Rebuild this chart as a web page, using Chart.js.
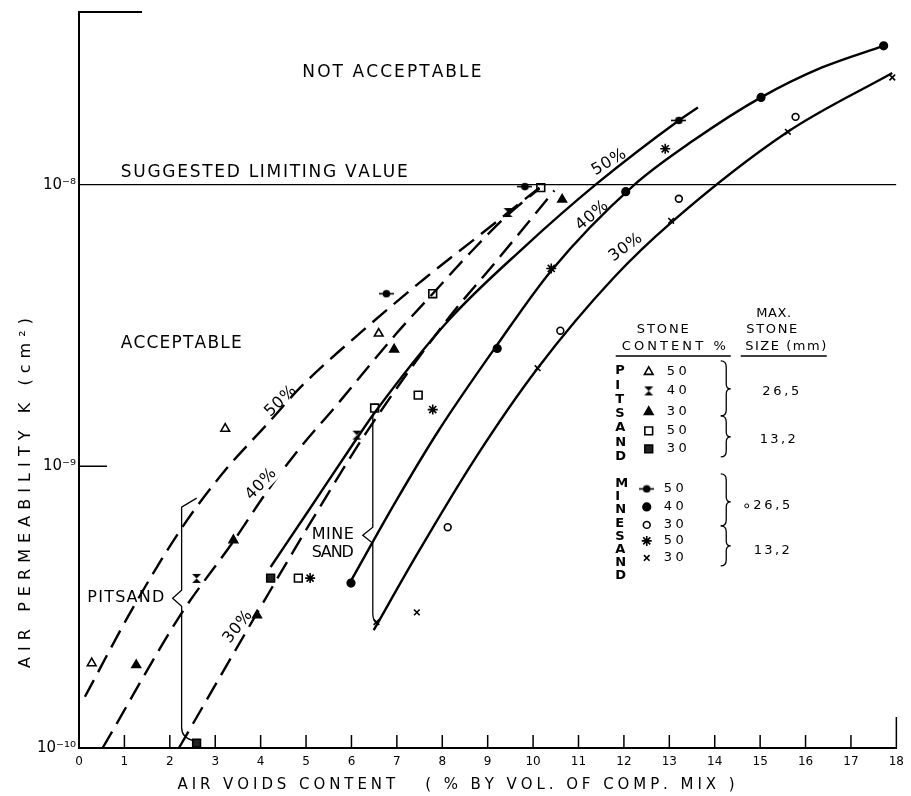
<!DOCTYPE html>
<html>
<head>
<meta charset="utf-8">
<script src="https://cdn.jsdelivr.net/npm/chart.js@4.4.1/dist/chart.umd.min.js"></script>
<style>
  html, body { margin: 0; padding: 0; background: #fff; }
  canvas { display: block; }
</style>
</head>
<body>
<canvas id="chart" width="911" height="796"></canvas>
<script>
// ---- data ----
// fitted curves, pitsand (dashed)
const pitCurve50X = [0.13, 1.2, 2.26, 3.2, 4.16, 4.88, 6.33, 7.64, 8.73, 9.45, 10.14];
const pitCurve50Y = [1.52e-10, 3.17e-10, 6.03e-10, 9.6e-10, 1.42e-9, 1.91e-9, 3.11e-9, 4.68e-9, 6.44e-9, 7.96e-9, 9.76e-9];
const pitCurve40X = [0.52, 2.26, 3.37, 4.16, 4.88, 5.62, 6.99, 7.79, 8.62, 9.45, 10.14];
const pitCurve40Y = [1.0e-10, 3.01e-10, 5.33e-10, 8.22e-10, 1.17e-9, 1.61e-9, 2.96e-9, 4.10e-9, 5.74e-9, 7.83e-9, 9.68e-9];
const pitCurve30X = [2.20, 3.92, 5.09, 6.33, 8.10, 9.16, 10.47];
const pitCurve30Y = [1.0e-10, 3.01e-10, 6.28e-10, 1.32e-9, 3.30e-9, 5.28e-9, 9.53e-9];
// fitted curves, mine sand (solid)
const mineCurve50X = [4.22, 5.09, 6.05, 6.51, 8.14, 9.77, 11.41, 13.21, 13.63];
const mineCurve50Y = [4.39e-10, 7.10e-10, 1.21e-9, 1.55e-9, 3.30e-9, 5.93e-9, 1.01e-8, 1.69e-8, 1.88e-8];
const mineCurve40X = [5.96, 6.99, 7.92, 9.21, 10.40, 12.21, 13.52, 15.02, 16.35, 17.72];
const mineCurve40Y = [3.85e-10, 7.57e-10, 1.34e-9, 2.70e-9, 4.95e-9, 9.92e-9, 1.43e-8, 2.04e-8, 2.60e-8, 3.11e-8];
const mineCurve30X = [6.49, 7.42, 8.73, 10.10, 11.78, 13.04, 15.61, 17.91];
const mineCurve30Y = [2.62e-10, 4.80e-10, 1.07e-9, 2.23e-9, 4.68e-9, 7.33e-9, 1.54e-8, 2.49e-8];
// suggested limiting value
const limitX = [0, 18];
const limitY = [1e-8, 1e-8];

// measured points, pitsand
const pit50X = [0.28, 3.22, 6.60];                 // open triangle, 26,5 mm
const pit50Y = [2.0e-10, 1.36e-9, 2.96e-9];
const pit40X = [2.59, 6.12, 9.45];                 // hourglass, 26,5 mm
const pit40Y = [4.0e-10, 1.29e-9, 7.96e-9];
const pit30X = [1.26, 3.40, 3.92, 6.94, 10.64];    // filled triangle, 26,5 mm
const pit30Y = [1.97e-10, 5.47e-10, 2.96e-10, 2.60e-9, 8.85e-9];
const pit50sX = [4.83, 6.51, 7.47, 7.79, 10.17];   // open square, 13,2 mm
const pit50sY = [4.01e-10, 1.61e-9, 1.79e-9, 4.10e-9, 9.76e-9];
const pit30sX = [2.59, 4.22];                      // filled square, 13,2 mm
const pit30sY = [1.04e-10, 4.01e-10];
// measured points, mine sand
const mine50X = [6.77, 9.82, 13.21];               // barred dot, 26,5 mm
const mine50Y = [4.10e-9, 9.84e-9, 1.69e-8];
const mine40X = [5.99, 9.21, 12.04, 15.02, 17.72]; // dot, 26,5 mm
const mine40Y = [3.85e-10, 2.62e-9, 9.44e-9, 2.04e-8, 3.11e-8];
const mine30X = [8.12, 10.60, 13.21, 15.78];       // open circle, 26,5 mm
const mine30Y = [6.08e-10, 3.03e-9, 8.91e-9, 1.74e-8];
const mine50sX = [5.09, 7.79, 10.40, 12.91];       // asterisk, 13,2 mm
const mine50sY = [4.01e-10, 1.59e-9, 5.04e-9, 1.34e-8];
const mine30sX = [6.55, 7.44, 10.10, 13.04, 15.61, 17.91]; // cross, 13,2 mm
const mine30sY = [2.80e-10, 3.03e-10, 2.23e-9, 7.44e-9, 1.54e-8, 2.40e-8];

// axes
const yTickValues = [1e-10, 1e-9, 1e-8];
const yTickLabels = ['10\u207B\u00B9\u2070', '10\u207B\u2079', '10\u207B\u2078'];
const xMin = 0, xMax = 18, yMin = 1e-10, yMax = 4.1e-8;

const FONT = '"DejaVu Sans", sans-serif';

function zip(xs, ys) {
  return xs.map((x, i) => ({ x: x, y: ys[i] }));
}

// custom marker shapes
const hourglass = (() => {
  const c = document.createElement('canvas');
  c.width = 11; c.height = 11;
  const g = c.getContext('2d');
  g.fillStyle = '#000';
  g.beginPath();
  g.moveTo(1, 1); g.lineTo(10, 1); g.lineTo(1, 10); g.lineTo(10, 10);
  g.closePath();
  g.fill();
  return c;
})();
const barDot = (() => {
  const c = document.createElement('canvas');
  c.width = 15; c.height = 9;
  const g = c.getContext('2d');
  g.strokeStyle = '#000'; g.fillStyle = '#000'; g.lineWidth = 1.6;
  g.beginPath(); g.moveTo(0, 4.5); g.lineTo(15, 4.5); g.stroke();
  g.beginPath(); g.arc(7.5, 4.5, 3.8, 0, Math.PI * 2); g.fill();
  return c;
})();

function curve(xs, ys, dashed) {
  return {
    type: 'line', data: zip(xs, ys), borderColor: '#000', borderWidth: 2.4,
    borderDash: dashed ? [19, 9] : [], pointRadius: 0,
    cubicInterpolationMode: 'monotone', fill: false, clip: false
  };
}
function marks(label, xs, ys, style, radius, fillColor) {
  return {
    type: 'line', label: label, data: zip(xs, ys), showLine: false,
    pointStyle: style, pointRadius: radius, borderColor: '#000', borderWidth: 1.5,
    pointBorderWidth: 1.6, pointBackgroundColor: fillColor, pointBorderColor: '#000',
    clip: false
  };
}

const datasets = [
  { type: 'line', data: zip(limitX, limitY), borderColor: '#000', borderWidth: 1.3, pointRadius: 0 },
  curve(pitCurve50X, pitCurve50Y, true),
  curve(pitCurve40X, pitCurve40Y, true),
  curve(pitCurve30X, pitCurve30Y, true),
  curve(mineCurve50X, mineCurve50Y, false),
  curve(mineCurve40X, mineCurve40Y, false),
  curve(mineCurve30X, mineCurve30Y, false),
  marks('Pitsand 50 (26,5)', pit50X, pit50Y, 'triangle', 5, '#fff'),
  marks('Pitsand 40 (26,5)', pit40X, pit40Y, hourglass, 5, '#000'),
  marks('Pitsand 30 (26,5)', pit30X, pit30Y, 'triangle', 5, '#000'),
  marks('Pitsand 50 (13,2)', pit50sX, pit50sY, 'rect', 5.5, '#fff'),
  marks('Pitsand 30 (13,2)', pit30sX, pit30sY, 'rect', 5.5, '#222'),
  marks('Mine sand 50 (26,5)', mine50X, mine50Y, barDot, 5, '#000'),
  marks('Mine sand 40 (26,5)', mine40X, mine40Y, 'circle', 3.8, '#000'),
  marks('Mine sand 30 (26,5)', mine30X, mine30Y, 'circle', 3.4, '#fff'),
  marks('Mine sand 50 (13,2)', mine50sX, mine50sY, 'star', 5, '#000'),
  marks('Mine sand 30 (13,2)', mine30sX, mine30sY, 'crossRot', 4, '#000')
];

// text placed on the plot, anchored in data units
const notes = [
  { t: 'NOT ACCEPTABLE', x: 6.89, y: 2.49e-8, w: 179, s: 17 },
  { t: 'SUGGESTED LIMITING VALUE', x: 4.08, y: 1.10e-8, w: 287, s: 17 },
  { t: 'ACCEPTABLE', x: 2.25, y: 2.73e-9, w: 121, s: 17 },
  { t: 'PITSAND', x: 1.03, y: 3.40e-10, w: 77, s: 16 },
  { t: 'MINE', x: 5.59, y: 5.69e-10, w: 42, s: 16 },
  { t: 'SAND', x: 5.59, y: 4.91e-10, w: 42, s: 16 },
  { t: '50%', x: 4.44, y: 1.70e-9, w: 37, s: 16, r: -44 },
  { t: '40%', x: 4.01, y: 8.63e-10, w: 37, s: 16, r: -46, bg: true },
  { t: '30%', x: 3.50, y: 2.69e-10, w: 37, s: 16, r: -52 },
  { t: '50%', x: 11.67, y: 1.20e-8, w: 37, s: 16, r: -31 },
  { t: '40%', x: 11.30, y: 7.76e-9, w: 37, s: 16, r: -40 },
  { t: '30%', x: 12.04, y: 5.98e-9, w: 37, s: 16, r: -36 }
];

function spaced(ctx, text, cx, cy, width, size, rot, opts) {
  opts = opts || {};
  ctx.save();
  ctx.font = (opts.bold ? 'bold ' : '') + size + 'px ' + FONT;
  const chars = [...text];
  const ws = chars.map(c => ctx.measureText(c).width);
  const nat = ws.reduce((a, b) => a + b, 0);
  const gap = chars.length > 1 ? (width - nat) / (chars.length - 1) : 0;
  ctx.translate(cx, cy);
  ctx.rotate((rot || 0) * Math.PI / 180);
  if (opts.bg) {
    ctx.fillStyle = '#fff';
    ctx.fillRect(-width / 2 - 3, -size * 0.5, width + 6, size);
  }
  ctx.fillStyle = '#000';
  ctx.textBaseline = 'middle';
  ctx.textAlign = 'left';
  let px = -width / 2;
  chars.forEach((c, i) => { ctx.fillText(c, px, 0); px += ws[i] + gap; });
  ctx.restore();
}

function brace(ctx, x, y1, y2, ym, w) {
  const m = x + w * 0.55;
  ctx.beginPath();
  ctx.moveTo(x, y1);
  ctx.quadraticCurveTo(m, y1, m, y1 + 6);
  ctx.lineTo(m, ym - 5);
  ctx.quadraticCurveTo(m, ym, x + w, ym);
  ctx.quadraticCurveTo(m, ym, m, ym + 5);
  ctx.lineTo(m, y2 - 6);
  ctx.quadraticCurveTo(m, y2, x, y2);
  ctx.stroke();
}

function marker(ctx, ds, x, y) {
  ctx.save();
  ctx.fillStyle = ds.pointBackgroundColor;
  ctx.strokeStyle = '#000';
  ctx.lineWidth = 1.6;
  const o = { pointStyle: ds.pointStyle, radius: ds.pointRadius, rotation: 0, borderWidth: 1.6 };
  if (Chart.helpers && Chart.helpers.drawPoint) {
    Chart.helpers.drawPoint(ctx, o, x, y);
  }
  ctx.restore();
}

const decor = {
  id: 'decor',
  afterDraw(chart) {
    const ctx = chart.ctx;
    const a = chart.chartArea;
    const xs = chart.scales.x, ys = chart.scales.y;
    ctx.save();
    ctx.strokeStyle = '#000';
    ctx.fillStyle = '#000';

    // short frame piece at top left and inner ticks
    ctx.lineWidth = 2;
    ctx.beginPath();
    ctx.moveTo(a.left, a.top); ctx.lineTo(a.left + 63, a.top);
    ctx.stroke();
    ctx.lineWidth = 1.5;
    ctx.beginPath();
    const yk = ys.getPixelForValue(1e-9);
    ctx.moveTo(a.left, yk); ctx.lineTo(a.left + 28, yk);
    for (let v = 1; v <= xMax; v++) {
      const px = xs.getPixelForValue(v);
      ctx.moveTo(px, a.bottom);
      ctx.lineTo(px, a.bottom - (v === xMax ? 31 : 13));
    }
    ctx.stroke();

    // labels on the plot
    notes.forEach(n => {
      spaced(ctx, n.t, xs.getPixelForValue(n.x), ys.getPixelForValue(n.y), n.w, n.s, n.r, { bg: n.bg });
    });

    // pitsand bracket
    ctx.lineWidth = 1.3;
    let bx = xs.getPixelForValue(2.26);
    let t = ys.getPixelForValue(7.16e-10), m = ys.getPixelForValue(3.40e-10), b = ys.getPixelForValue(1.18e-10);
    ctx.beginPath();
    ctx.moveTo(xs.getPixelForValue(2.59), ys.getPixelForValue(7.71e-10));
    ctx.lineTo(bx, t);
    ctx.lineTo(bx, m - 8); ctx.lineTo(bx - 9, m); ctx.lineTo(bx, m + 8);
    ctx.lineTo(bx, b);
    ctx.quadraticCurveTo(bx, b + 10, xs.getPixelForValue(2.53), ys.getPixelForValue(1.06e-10));
    ctx.stroke();
    // mine sand bracket
    bx = xs.getPixelForValue(6.47);
    t = ys.getPixelForValue(1.54e-9); m = ys.getPixelForValue(5.69e-10); b = ys.getPixelForValue(3.01e-10);
    ctx.beginPath();
    ctx.moveTo(bx, t);
    ctx.lineTo(bx, m - 8); ctx.lineTo(bx - 10, m); ctx.lineTo(bx, m + 8);
    ctx.lineTo(bx, b);
    ctx.quadraticCurveTo(bx, b + 8, xs.getPixelForValue(6.57), ys.getPixelForValue(2.77e-10));
    ctx.stroke();

    // axis titles
    spaced(ctx, 'AIR VOIDS CONTENT   ( % BY VOL. OF COMP. MIX )', 456, 785, 557, 15, 0);
    spaced(ctx, 'AIR PERMEABILITY K (cm\u00B2)', 26, 493, 350, 16, -90);

    // key table
    const ox = xs.getPixelForValue(11.82), oy = ys.getPixelForValue(3.1e-9) - 14;
    const L = 13;
    spaced(ctx, 'STONE', ox + 47, oy + 16, 52, L, 0);
    spaced(ctx, 'CONTENT %', ox + 58, oy + 33, 104, L, 0);
    spaced(ctx, 'MAX.', ox + 158, oy, 35, L, 0);
    spaced(ctx, 'STONE', ox + 156, oy + 16, 51, L, 0);
    spaced(ctx, 'SIZE (mm)', ox + 170, oy + 33, 81, L, 0);
    ctx.lineWidth = 1.5;
    ctx.beginPath();
    ctx.moveTo(ox, oy + 42); ctx.lineTo(ox + 115, oy + 42);
    ctx.moveTo(ox + 125, oy + 42); ctx.lineTo(ox + 211, oy + 42);
    ctx.stroke();
    [...'PITSAND'].forEach((c, i) => spaced(ctx, c, ox + 4, oy + 57 + i * 14.3, 9, L, 0, { bold: true }));
    [...'MINESAND'].forEach((c, i) => spaced(ctx, c, ox + 4, oy + 170 + i * 13.1, 9, L, 0, { bold: true }));
    const pitRows = [[7, '50', 58], [8, '40', 77], [9, '30', 98], [10, '50', 117], [11, '30', 135]];
    pitRows.forEach(r => {
      marker(ctx, datasets[r[0]], ox + 33, oy + r[2]);
      spaced(ctx, r[1], ox + 61, oy + r[2], 20, L, 0);
    });
    const mineRows = [[12, '50', 175], [13, '40', 193], [14, '30', 211], [15, '50', 227], [16, '30', 244]];
    mineRows.forEach(r => {
      marker(ctx, datasets[r[0]], ox + 31, oy + r[2]);
      spaced(ctx, r[1], ox + 58, oy + r[2], 20, L, 0);
    });
    ctx.lineWidth = 1.3;
    brace(ctx, ox + 105, oy + 47, oy + 102, oy + 75, 10);
    brace(ctx, ox + 105, oy + 102, oy + 143, oy + 123, 10);
    brace(ctx, ox + 105, oy + 160, oy + 212, oy + 188, 10);
    brace(ctx, ox + 105, oy + 212, oy + 252, oy + 232, 10);
    spaced(ctx, '26,5', ox + 165, oy + 78, 37, L, 0);
    spaced(ctx, '13,2', ox + 162, oy + 126, 36, L, 0);
    ctx.lineWidth = 1;
    ctx.beginPath(); ctx.arc(ox + 131, oy + 192, 2, 0, Math.PI * 2); ctx.stroke();
    spaced(ctx, '26,5', ox + 156, oy + 192, 37, L, 0);
    spaced(ctx, '13,2', ox + 156, oy + 237, 36, L, 0);
    ctx.restore();
  }
};

new Chart(document.getElementById('chart').getContext('2d'), {
  type: 'line',
  data: { datasets: datasets },
  options: {
    responsive: false,
    animation: false,
    devicePixelRatio: 1,
    events: [],
    layout: { padding: { top: 11, right: 5, left: 0, bottom: 0 } },
    plugins: { legend: { display: false }, tooltip: { enabled: false } },
    scales: {
      x: {
        type: 'linear', min: xMin, max: xMax,
        grid: { display: false, drawTicks: false },
        border: { display: true, color: '#000', width: 2 },
        ticks: { stepSize: 1, autoSkip: false, maxRotation: 0, color: '#000', padding: 7,
                 font: { family: FONT, size: 12 } },
        afterFit: s => { s.height = 48; }
      },
      y: {
        type: 'logarithmic', min: yMin, max: yMax,
        grid: { display: false, drawTicks: false },
        border: { display: true, color: '#000', width: 2 },
        afterBuildTicks: s => { s.ticks = yTickValues.map(v => ({ value: v })); },
        ticks: { color: '#000', padding: 3, font: { family: FONT, size: 15 },
                 callback: v => yTickLabels[yTickValues.indexOf(v)] || '' },
        afterFit: s => { s.width = 79; }
      }
    }
  },
  plugins: [decor]
});
</script>
</body>
</html>
